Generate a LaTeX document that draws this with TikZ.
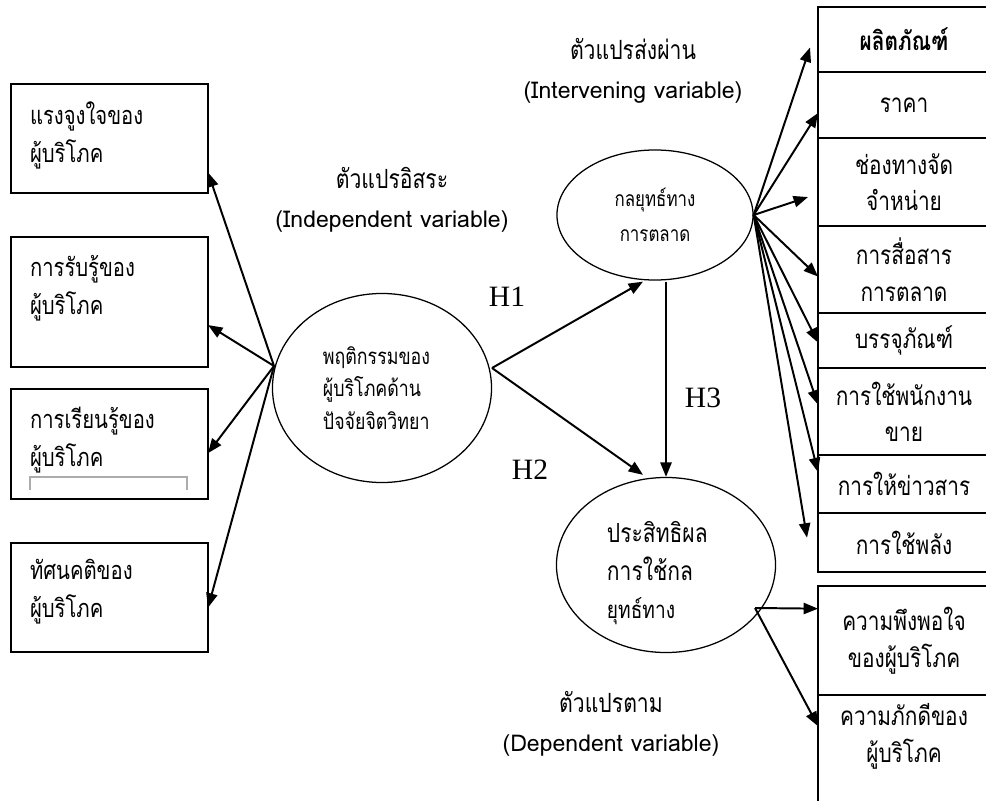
\documentclass[tikz,border=0pt]{standalone}
\usepackage{fontspec}
\setmainfont[Script=Thai, FakeStretch=0.8]{Loma}
\newfontfamily\latinfont{Loma}
\newfontfamily\hfont{Liberation Serif}
\usetikzlibrary{positioning, arrows.meta, calc, shapes.geometric}

\newcommand{\boxtext}{\fontsize{18}{27}\selectfont}
\newcommand{\mixtext}{\fontsize{18.5}{26}\selectfont}
\newcommand{\engtext}{\latinfont\fontsize{16.4}{28}\selectfont}

\begin{document}
\begin{tikzpicture}[x=0.025cm, y=-0.025cm,
    % Node styles
    leftbox/.style={
        rectangle,
        draw,
        line width=1.2pt,
        outer sep=0pt,
        text width=3.975cm,
        inner xsep=0.475cm,
        inner ysep=0pt,
        minimum height=#1,
        text height=0.6cm,
        text depth=1.4cm,
        align=left,
        font=\boxtext
    },
    rightbox/.style={
        rectangle,
        draw,
        line width=1.2pt,
        outer sep=0pt,
        minimum width=4.3cm,
        minimum height=#1,
        inner sep=0pt,
        align=center,
        font=\mixtext
    },
    oval/.style={
        ellipse,
        draw,
        line width=0.9pt,
        inner sep=0pt
    },
    varlabel/.style={
        align=center,
        font=\fontsize{18.8}{28}\selectfont
    },
    hyp/.style={
        font=\hfont\fontsize{21}{21}\selectfont
    },
    arrow/.style={
        -{Triangle[length=0.36cm, width=0.28cm]},
        line width=1.4pt
    }
]
    \clip (0,0) rectangle (986,801);

    % ==== INDEPENDENT VARIABLES ====
    \node[leftbox=2.725cm, text height=0.7cm, anchor=north west] (motive) at (11,84) {แรงจูงใจของ\\ผู้บริโภค};
    \node[leftbox=3.25cm, text height=0.1cm, below=1.1cm of motive] (percept) {การรับรู้ของ\\ผู้บริโภค};
    \node[leftbox=2.75cm, below=0.55cm of percept] (learn) {การเรียนรู้ของ\\ผู้บริโภค};
    \node[leftbox=2.725cm, text height=0.5cm, below=1.1cm of learn] (attitude) {ทัศนคติของ\\ผู้บริโภค};
    \draw[gray!65, line width=2pt] (30,490) |- (187,477) -- (187,490);

    \node[oval, minimum width=5.475cm, minimum height=4.725cm, text width=2.95cm, align=left, font=\fontsize{15.8}{23}\selectfont] (psy) at (382,388) {พฤติกรรมของ\\ผู้บริโภคด้าน\\ปัจจัยจิตวิทยา};
    \coordinate (psyL) at (274,366);
    \coordinate (psyR) at (492,368);

    \node[varlabel] (indep) at (392,200) {ตัวแปรอิสระ\\{\engtext (Independent variable)}};

    % ==== INTERVENING VARIABLE ====
    \node[oval, minimum width=4.9cm, minimum height=3.25cm, align=center, font=\fontsize{15}{25}\selectfont] (mkt) at (655,215) {กลยุทธ์ทาง\\การตลาด};
    \node[varlabel] (interv) at (633,71) {ตัวแปรส่งผ่าน\\{\engtext (Intervening variable)}};

    % ==== DEPENDENT VARIABLE ====
    \node[oval, minimum width=5.475cm, minimum height=4.375cm, text width=2.95cm, text height=0.95cm, align=left, font=\fontsize{18.7}{27}\selectfont] (eff) at (666,565) {ประสิทธิผล\\การใช้กล\\{\fontsize{17}{17}\selectfont ยุทธ์ทาง}};
    \coordinate (effR) at (755,608);
    \node[varlabel] (dep) at (611,724) {ตัวแปรตาม\\{\engtext (Dependent variable)}};

    % ==== MARKETING MIX BOXES ====
    \node[rightbox=1.625cm, anchor=north west, font=\mixtext\bfseries] (prod) at (818,7) {ผลิตภัณฑ์};
    \node[rightbox=1.65cm, below=0pt of prod] (price) {ราคา};
    \node[rightbox=2.2cm, below=0pt of price] (place) {ช่องทางจัด\\จำหน่าย};
    \node[rightbox=2.175cm, below=0pt of place] (promo) {การสื่อสาร\\การตลาด};
    \node[rightbox=1.375cm, below=0pt of promo] (pack) {บรรจุภัณฑ์};
    \node[rightbox=2.175cm, below=0pt of pack] (sales) {การใช้พนักงาน\\ขาย};
    \node[rightbox=1.45cm, below=0pt of sales] (info) {การให้ข่าวสาร};
    \node[rightbox=1.475cm, below=0pt of info] (power) {การใช้พลัง};

    % ==== OUTCOME BOXES ====
    \node[rightbox=2.725cm, below=0.35cm of power] (satis) {ความพึงพอใจ\\ของผู้บริโภค};
    \node[rightbox=3.0cm, below=0pt of satis, text depth=1.1cm] (loyal) {ความภักดีของ\\ผู้บริโภค};

    % ==== HYPOTHESES ====
    \node[hyp] (h1) at (507,297) {H1};
    \node[hyp] (h2) at (530,470) {H2};
    \node[hyp] (h3) at (703,398) {H3};

    % ==== CONNECTIONS ====

    % Psychology -> factors
    \draw[arrow] (psyL) -- ($(motive.east)+(0,34)$);
    \draw[arrow] (psyL) -- ($(percept.east)+(0,23)$);
    \draw[arrow] (psyL) -- ($(learn.east)+(0,9)$);
    \draw[arrow] (psyL) -- ($(attitude.east)+(0,10)$);

    % Hypotheses
    \draw[arrow] (psyR) -- ($(mkt.south)+(-12,1)$);
    \draw[arrow] (psyR) -- ($(eff.north)+(-23,-2)$);
    \draw[arrow] ($(mkt.south)+(11,1)$) -- (eff.north);

    % Strategy -> marketing mix
    \draw[arrow] (mkt.east) -- ($(prod.west)+(-8,8)$);
    \draw[arrow] (mkt.east) -- ($(price.west)+(0,8)$);
    \draw[arrow] (mkt.east) -- ($(place.west)+(-10,15)$);
    \draw[arrow] (mkt.east) -- ($(promo.west)+(0,7)$);
    \draw[arrow] (mkt.east) -- ($(pack.west)+(0,2)$);
    \draw[arrow] (mkt.east) -- ($(sales.west)+(0,-7)$);
    \draw[arrow] (mkt.east) -- ($(info.west)+(0,-12)$);
    \draw[arrow] (mkt.east) -- ($(power.west)+(-11,-5)$);

    % Effectiveness -> outcomes
    \draw[arrow] (effR) -- ($(satis.west)+(0,-32)$);
    \draw[arrow] (effR) -- ($(loyal.west)+(0,-29)$);

\end{tikzpicture}
\end{document}
